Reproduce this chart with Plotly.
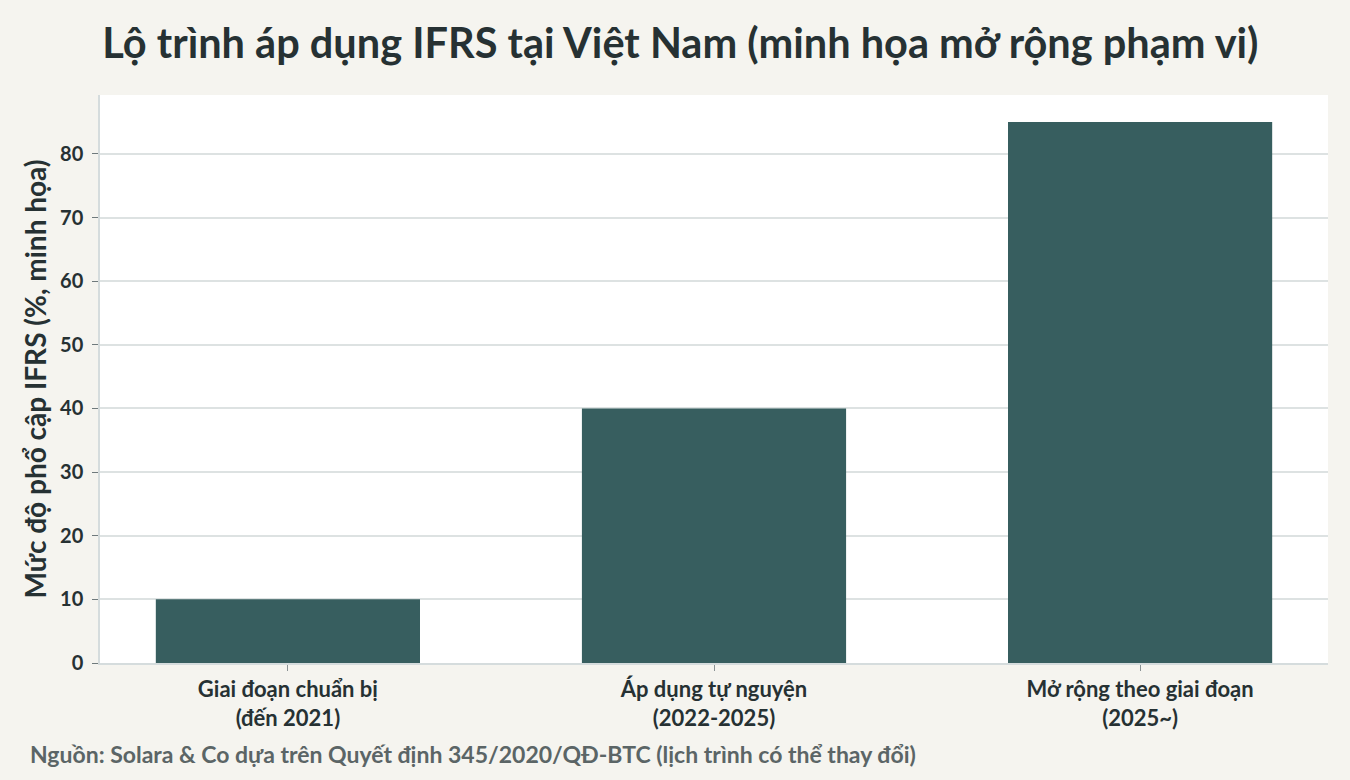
import plotly.graph_objects as go

categories = ["Giai đoạn chuẩn bị<br>(đến 2021)",
              "Áp dụng tự nguyện<br>(2022-2025)",
              "Mở rộng theo giai đoạn<br>(2025~)"]
adoption_pct = [10, 40, 85]
y_ticks = [0, 10, 20, 30, 40, 50, 60, 70, 80]

TEXT = "#263133"
BAR = "#375E5F"
BG = "#F5F4EF"
FONT = "Lato"

fig = go.Figure()
fig.add_trace(go.Bar(x=list(range(len(categories))), y=adoption_pct, width=0.62,
                     marker={"color": BAR, "line": {"width": 0}}, hoverinfo="skip"))

fig.update_layout(
    width=1350, height=780,
    paper_bgcolor=BG, plot_bgcolor="white",
    margin={"l": 100, "r": 22, "t": 95, "b": 117},
    showlegend=False,
    font={"family": FONT, "color": TEXT},
    title={"text": "Lộ trình áp dụng IFRS tại Việt Nam (minh họa mở rộng phạm vi)",
           "x": 0.504, "xanchor": "center", "y": 0.944, "yanchor": "middle",
           "font": {"size": 41.5, "family": FONT, "color": TEXT, "weight": "bold"}},
)
fig.update_xaxes(
    range=[-0.441, 2.441], tickvals=list(range(len(categories))), ticktext=categories,
    tickfont={"size": 22, "weight": "bold", "color": TEXT},
    ticks="outside", ticklen=6, tickcolor="#8a9294", tickwidth=1.2,
    showline=True, linecolor="#D5DCDD", linewidth=1.5, showgrid=False, zeroline=False,
)
fig.update_yaxes(
    range=[0, 89.25], tickvals=y_ticks,
    tickfont={"size": 20, "weight": "bold", "color": TEXT},
    ticks="outside", ticklen=6, tickcolor="#6f7a7c", tickwidth=1.2, ticklabelstandoff=5,
    showline=True, linecolor="#D5DCDD", linewidth=1.5,
    showgrid=True, gridcolor="#DDE2E2", gridwidth=1.5, zeroline=False,
    title={"text": "Mức độ phổ cập IFRS (%, minh họa)", "standoff": 5,
           "font": {"size": 28, "weight": "bold", "color": TEXT}},
)
fig.add_annotation(text="Nguồn: Solara & Co dựa trên Quyết định 345/2020/QĐ-BTC (lịch trình có thể thay đổi)",
                   xref="paper", yref="paper", x=-0.0586, y=-0.16, xanchor="left", yanchor="middle",
                   showarrow=False, font={"size": 23, "weight": "bold", "color": "#5B6566"})

fig.write_html("out.html", config={"displayModeBar": False},
               post_script="document.body.style.margin='0';")
